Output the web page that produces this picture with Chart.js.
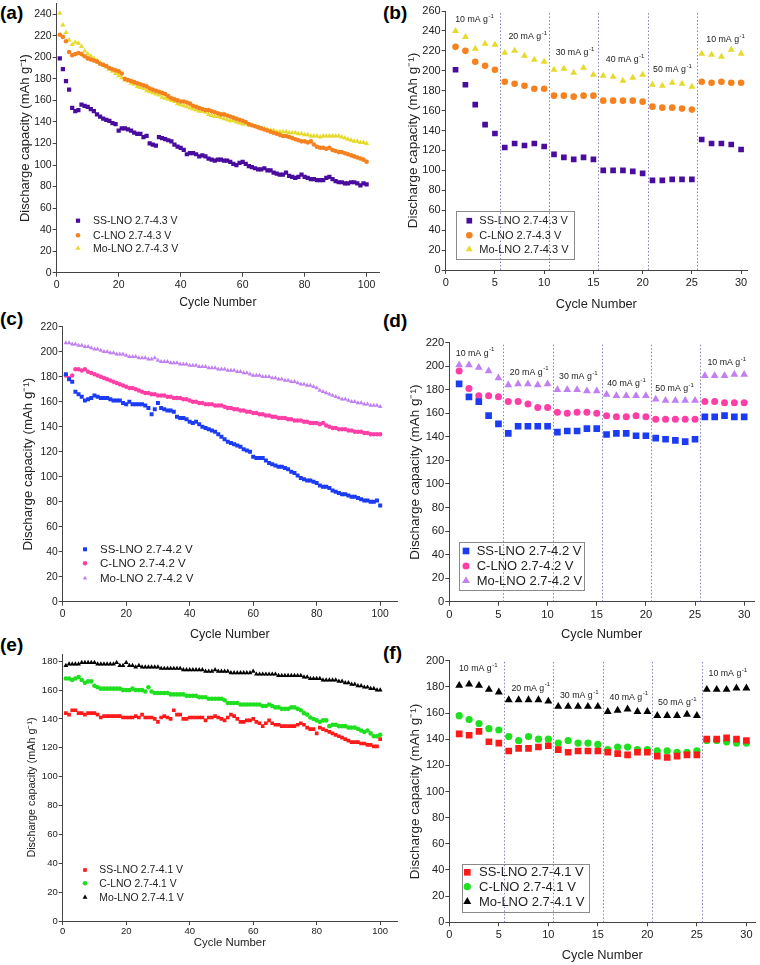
<!DOCTYPE html>
<html>
<head>
<meta charset="utf-8">
<script src="https://cdn.jsdelivr.net/npm/chart.js@4.4.1/dist/chart.umd.min.js"></script>
<style>
  body { margin: 0; width: 760px; height: 965px; background: #fff; overflow: hidden; position: relative; }
  canvas { position: absolute; }
  .lbl { position: absolute; font: bold 19px "Liberation Sans", Arial, sans-serif; line-height: 1; color: #000; }
</style>
</head>
<body>
<div class="lbl" style="left:0px;top:3px">(a)</div>
<div class="lbl" style="left:383px;top:3px">(b)</div>
<div class="lbl" style="left:0px;top:309px">(c)</div>
<div class="lbl" style="left:383px;top:311px">(d)</div>
<div class="lbl" style="left:0px;top:635px">(e)</div>
<div class="lbl" style="left:383px;top:643px">(f)</div>
<script>
// ---- data (discharge capacity, mAh/g, one value per cycle starting at cycle 1) ----

// (a) cycling 2.7-4.3 V
const ssA = [199,189,178,170,153,150,151,156,155,154, 152,150,147,145,143,142,141,139,138,132,
             134,134,133,132,130,129,129,126,127,120, 119,118,126,125,124,123,122,119,117,116,
             114,110,111,111,110,108,109,108,106,105, 104,105,105,104,104,103,101,100,102,103,
             101,99,98,97,96,96,97,95,95,93, 92,91,91,93,90,89,88,89,91,89,
             88,87,87,86,86,86,88,89,87,85, 84,84,83,83,84,84,83,81,83,82];
const cA  = [221,219,215,205,202,203,204,203,201,199, 198,197,196,194,193,192,190,189,188,187,
             185,180,179,178,177,176,175,174,173,171, 170,169,168,167,166,164,162,161,160,159,
             159,158,157,155,154,153,152,151,151,150, 149,148,147,147,146,145,144,143,142,141,
             140,138,137,136,135,134,133,132,131,130, 129,128,127,127,126,125,124,123,122,122,
             121,122,119,117,116,116,115,116,114,113, 112,112,111,110,109,108,107,106,105,103];
const moA = [241,230,223,216,212,214,213,210,206,203, 201,199,197,195,193,191,189,187,185,183,
             181,179,178,176,175,173,172,171,169,168, 167,166,165,163,162,161,160,159,157,156,
             155,154,153,152,151,150,150,149,147,146, 145,145,144,143,142,141,141,140,139,138,
             138,137,137,136,135,134,134,133,132,132, 131,131,131,131,130,130,130,129,129,128,
             128,127,127,127,126,127,127,127,127,127, 127,126,125,124,123,122,122,121,121,120];

// (b) rate 2.7-4.3 V
const ssB = [201,186,166,146,137,123,127,125,127,124, 116,113,111,113,111,100,100,100,99,97,
             90,90,91,91,91,131,127,127,126,121];
const cB  = [224,220,209,205,201,189,187,185,182,182, 175,175,174,175,175,170,170,170,170,169,
             164,163,163,162,161,189,188,189,188,188];
const moB = [240,234,222,227,226,218,220,215,211,209, 201,202,198,203,196,195,194,190,193,196,
             186,185,188,187,184,217,216,214,221,217];

// (c) cycling 2.7-4.2 V
const ssC = [182,178,176,168,166,164,161,162,163,165, 164,163,163,163,162,161,161,161,159,158,
             160,158,158,158,158,157,155,150,154,159, 155,154,153,153,152,148,147,147,146,144,
             143,144,142,140,139,138,137,136,134,132, 130,128,127,126,125,124,122,121,120,116,
             115,115,115,113,111,110,109,108,108,107, 106,104,103,101,99,98,97,97,96,95,
             93,92,92,91,89,88,87,86,86,85, 84,84,83,82,81,81,80,80,81,77];
const cC  = [181,179,181,186,186,185,186,184,183,182, 181,180,179,178,177,176,175,174,173,172,
             171,171,170,169,168,167,167,166,166,165, 165,165,164,164,163,163,163,162,162,161,
             160,160,159,159,158,158,158,157,157,157, 156,155,155,154,154,153,153,152,152,151,
             151,150,150,149,149,148,148,147,147,147, 146,146,145,145,145,144,144,143,143,143,
             142,143,141,140,139,139,138,138,138,137, 137,136,136,136,135,135,134,134,134,134];
const moC = [207,207,206,206,205,205,204,204,203,202, 202,201,200,200,199,199,198,198,198,197,
             196,196,196,195,195,195,194,194,195,193, 192,192,192,191,191,191,190,190,190,189,
             189,189,188,188,188,187,187,187,186,186, 186,185,185,185,184,184,183,183,182,181,
             181,181,180,180,180,179,179,178,178,177, 177,176,176,175,174,174,173,173,172,171,
             169,168,167,166,165,164,163,162,162,161, 160,160,159,159,158,158,157,157,157,156];

// (d) rate 2.7-4.2 V
const ssD = [185,174,170,158,151,143,149,149,149,149, 144,145,145,147,147,142,143,143,141,141,
             139,138,137,136,138,157,157,158,157,157];
const cD  = [196,181,175,175,174,170,170,168,165,165, 161,160,161,161,160,158,157,157,158,157,
             155,155,155,155,155,170,170,169,169,169];
const moD = [201,201,199,196,190,184,185,185,184,185, 180,180,180,179,179,176,175,175,175,175,
             172,171,171,171,171,192,192,192,193,193];

// (e) cycling 2.7-4.1 V
const ssE = [144,143,146,146,144,144,143,144,144,144, 143,141,142,142,142,142,142,142,141,141,
             141,141,142,141,143,141,141,141,140,138, 141,142,141,140,146,143,143,140,140,141,
             141,141,141,141,139,141,141,142,141,140, 139,141,143,142,140,138,138,139,139,140,
             138,137,135,137,139,137,136,136,135,135, 135,135,135,136,137,136,134,133,133,130,
             134,133,132,131,130,129,128,127,126,125, 124,124,124,123,123,122,122,121,121,126];
const cE  = [168,168,167,168,169,167,165,166,166,163, 162,161,161,161,161,161,161,161,160,160,
             160,161,160,160,160,159,162,159,158,158, 158,158,158,157,157,157,157,157,156,156,
             156,156,155,155,155,154,154,154,154,154, 153,151,151,151,151,150,150,150,150,150,
             150,150,149,149,150,149,148,148,147,147, 147,148,148,147,146,144,143,141,140,139,
             138,139,139,135,136,136,135,135,135,134, 134,134,133,132,131,132,130,128,128,129];
const moE = [177,178,178,178,178,179,179,179,179,179, 178,178,178,178,178,178,179,177,177,179,
             177,177,176,177,176,176,176,176,176,176, 175,175,175,175,175,175,175,174,174,174,
             174,174,174,174,173,173,173,174,173,173, 173,173,172,172,172,172,172,172,172,173,
             171,171,171,171,171,171,171,170,170,170, 170,170,170,170,170,169,169,168,168,168,
             168,167,167,167,167,167,166,166,165,165, 164,164,163,163,162,162,161,161,160,160];

// (f) rate 2.7-4.1 V
const ssF = [144,143,146,138,137,131,133,133,134,135, 132,130,131,131,131,130,129,128,130,130,
             127,126,127,128,128,140,140,141,140,139];
const cF  = [158,155,152,148,147,142,139,142,140,140, 137,139,137,137,136,132,134,134,132,132,
             131,131,130,130,131,139,139,138,137,137];
const moF = [181,182,181,178,176,170,170,170,170,169, 165,165,165,165,165,161,162,163,161,161,
             158,158,158,159,158,178,178,178,179,179];

const labels43 = ['SS-LNO 2.7-4.3 V', 'C-LNO 2.7-4.3 V', 'Mo-LNO 2.7-4.3 V'];
const labels42 = ['SS-LNO 2.7-4.2 V', 'C-LNO 2.7-4.2 V', 'Mo-LNO 2.7-4.2 V'];
const labels41 = ['SS-LNO 2.7-4.1 V', 'C-LNO 2.7-4.1 V', 'Mo-LNO 2.7-4.1 V'];
const rateText = ['10', '20', '30', '40', '50', '10'];
const rateSteps = [5.5, 10.5, 15.5, 20.5, 25.5];

// tick labels
const xTicksLong = [0, 20, 40, 60, 80, 100];
const xTicksRate = [0, 5, 10, 15, 20, 25, 30];
const yTicks240 = [0, 20, 40, 60, 80, 100, 120, 140, 160, 180, 200, 220, 240];
const yTicks260 = [0, 20, 40, 60, 80, 100, 120, 140, 160, 180, 200, 220, 240, 260];
const yTicks220 = [0, 20, 40, 60, 80, 100, 120, 140, 160, 180, 200, 220];
const yTicks180 = [0, 20, 40, 60, 80, 100, 120, 140, 160, 180];
const yTicks200 = [0, 20, 40, 60, 80, 100, 120, 140, 160, 180, 200];

const colors43 = ['#4a0c9e', '#f5821f', '#e6da2c'];
const colors42 = ['#1b3cf2', '#ff3fa6', '#c080f2'];
const colors41 = ['#ff1a1a', '#1fe01f', '#000000'];
const shapes = ['rect', 'circle', 'triangle'];

const FONT = '"Liberation Sans", Arial, sans-serif';
Chart.defaults.font.family = FONT;

// ---- layout of each panel (page pixels) ----
const panels = [
  { series: [ssA, cA, moA], labels: labels43, colors: colors43, radius: [3, 2.3, 3],
    cl: 0, ct: -5, L: 56.7, R: 379, T: 3.5, B: 272.7, padR: 10,
    xMax: 104, yMax: 250, xTicks: xTicksLong, yTicks: yTicks240, xTitleY: 303, yTitleX: 25, tick: 10.5, xt: 12.2, yt: 13,
    legend: { mx: 78, tx: 93, rows: [220.7, 235.3, 248.3], size: 10.5 } },
  { series: [ssB, cB, moB], labels: labels43, colors: colors43, radius: [4, 3.3, 4],
    cl: 398, ct: 0, L: 445.7, R: 746.8, T: 11, B: 270, padR: 10,
    xMax: 30.6, yMax: 260, xTicks: xTicksRate, yTicks: yTicks260, xTitleY: 304, yTitleX: 413, tick: 11, xt: 12.8, yt: 13.5,
    legend: { mx: 469.3, tx: 479.3, rows: [220.7, 235.3, 249.3], size: 11, box: [456, 210.7, 574.3, 258.3] },
    rates: [[2.9, 251], [8.3, 234], [13.1, 218], [18.2, 211], [23.0, 201], [28.4, 231]] },
  { series: [ssC, cC, moC], labels: labels42, colors: colors42, radius: [2.8, 2.2, 2.6],
    cl: 0, ct: 316, L: 62.7, R: 397, T: 326.7, B: 601.7, padR: 8,
    xMax: 105.3, yMax: 220, xTicks: xTicksLong, yTicks: yTicks220, xTitleY: 634, yTitleX: 28, tick: 10.3, xt: 12.6, yt: 13.3,
    legend: { mx: 85, tx: 100, rows: [549.3, 563.3, 578.3], size: 11.5 } },
  { series: [ssD, cD, moD], labels: labels42, colors: colors42, radius: [4.7, 3.5, 4.5],
    cl: 400, ct: 332, L: 449.3, R: 754, T: 342.7, B: 601.7, padR: 5,
    xMax: 31, yMax: 220, xTicks: xTicksRate, yTicks: yTicks220, xTitleY: 634, yTitleX: 415, tick: 11.2, xt: 12.8, yt: 13.5,
    legend: { mx: 466, tx: 476.7, rows: [551, 566, 580.7], size: 13, box: [459.3, 541.7, 584, 590] },
    rates: [[2.6, 211], [8.1, 195], [13.1, 191], [18.0, 185], [22.9, 181], [28.2, 203]] },
  { series: [ssE, cE, moE], labels: labels41, colors: colors41, radius: [2.6, 2.3, 2.8],
    cl: 0, ct: 644, L: 62.7, R: 397, T: 654, B: 921, padR: 8,
    xMax: 105.3, yMax: 185, xTicks: xTicksLong, yTicks: yTicks180, xTitleY: 943, yTitleX: 32, tick: 9.5, xt: 11.4, yt: 10.8,
    tickPad: 1, legend: { mx: 85, tx: 99.3, rows: [870, 883.3, 897.3], size: 10.4 } },
  { series: [ssF, cF, moF], labels: labels41, colors: colors41, radius: [4.7, 3.6, 4.6],
    cl: 400, ct: 650, L: 449.3, R: 756.8, T: 660.7, B: 922.3, padR: 3.2,
    xMax: 30.9, yMax: 200, xTicks: xTicksRate, yTicks: yTicks200, xTitleY: 955, yTitleX: 415, tick: 11, xt: 12.8, yt: 13.5,
    legend: { mx: 467.3, tx: 479, rows: [872.3, 886.7, 901.7], size: 13, box: [461.7, 864, 588.3, 911.7] },
    rates: [[2.9, 194], [8.2, 179], [13.1, 173], [18.1, 172], [23.0, 168], [28.1, 190]] }
];

// same shapes as Chart.js point styles, for the hand-drawn legend
function mark(ctx, style, x, y, r, color) {
  ctx.fillStyle = color;
  ctx.beginPath();
  if (style === 'rect') {
    const s = r * Math.SQRT1_2;
    ctx.rect(x - s, y - s, 2 * s, 2 * s);
  } else if (style === 'circle') {
    ctx.arc(x, y, r, 0, Math.PI * 2);
  } else {
    ctx.moveTo(x, y - r);
    ctx.lineTo(x + r * 0.866, y + r * 0.5);
    ctx.lineTo(x - r * 0.866, y + r * 0.5);
    ctx.closePath();
  }
  ctx.fill();
}

function decor(p) {
  return {
    id: 'decor',
    beforeDatasetsDraw(chart) {
      if (!p.rates) return;
      const ctx = chart.ctx, a = chart.chartArea, xs = chart.scales.x;
      ctx.save();
      ctx.strokeStyle = 'rgba(110,110,175,0.85)';
      ctx.lineWidth = 1;
      ctx.setLineDash([1.5, 2]);
      rateSteps.forEach(v => {
        const x = Math.round(xs.getPixelForValue(v)) + 0.5;
        ctx.beginPath();
        ctx.moveTo(x, a.bottom);
        ctx.lineTo(x, a.top);
        ctx.stroke();
      });
      ctx.restore();
    },
    afterDraw(chart) {
      const ctx = chart.ctx;
      ctx.save();
      // rate labels
      if (p.rates) {
        const xs = chart.scales.x, ys = chart.scales.y;
        p.rates.forEach((r, i) => {
          const x = xs.getPixelForValue(r[0]), y = ys.getPixelForValue(r[1]);
          const main = rateText[i] + ' mA g';
          ctx.font = '8.8px ' + FONT;
          const w1 = ctx.measureText(main).width;
          ctx.font = '6px ' + FONT;
          const w2 = ctx.measureText('-1').width;
          const x0 = x - (w1 + w2) / 2;
          ctx.fillStyle = '#222';
          ctx.textBaseline = 'middle';
          ctx.textAlign = 'left';
          ctx.font = '8.8px ' + FONT;
          ctx.fillText(main, x0, y);
          ctx.font = '6px ' + FONT;
          ctx.fillText('-1', x0 + w1 + 0.5, y - 3.5);
        });
      }
      // legend
      const lg = p.legend;
      if (lg.box) {
        const b = lg.box;
        ctx.strokeStyle = '#8a8a8a';
        ctx.lineWidth = 1;
        ctx.strokeRect(Math.round(b[0] - p.cl) + 0.5, Math.round(b[1] - p.ct) + 0.5,
                       Math.round(b[2] - b[0]), Math.round(b[3] - b[1]));
      }
      ctx.font = lg.size + 'px ' + FONT;
      ctx.textBaseline = 'middle';
      ctx.textAlign = 'left';
      lg.rows.forEach((yy, k) => {
        mark(ctx, shapes[k], lg.mx - p.cl, yy - p.ct, p.radius[k], p.colors[k]);
        ctx.fillStyle = '#222';
        ctx.fillText(p.labels[k], lg.tx - p.cl, yy - p.ct + 0.5);
      });
      ctx.restore();
    }
  };
}

function makePanel(p) {
  const cv = document.createElement('canvas');
  const xLH = p.xt * 1.2, yLH = p.yt * 1.2;
  const w = Math.round(p.R + p.padR - p.cl);
  const h = Math.round(p.xTitleY + xLH / 2 - p.ct);
  cv.width = w;
  cv.height = h;
  cv.style.left = p.cl + 'px';
  cv.style.top = p.ct + 'px';
  document.body.appendChild(cv);
  const yW = p.L - p.cl;
  const xH = h - (p.B - p.ct);
  const axisGrid = { display: true, drawOnChartArea: false, drawTicks: true, tickLength: 4, color: '#444', lineWidth: 1 };
  const axisBorder = { display: true, color: '#444', width: 1 };

  new Chart(cv, {
    type: 'scatter',
    data: {
      datasets: p.series.map((s, k) => ({
        label: p.labels[k],
        data: s.map((v, i) => ({ x: i + 1, y: v })),
        pointStyle: shapes[k],
        pointRadius: p.radius[k],
        pointHoverRadius: p.radius[k],
        backgroundColor: p.colors[k],
        borderColor: p.colors[k],
        borderWidth: 0,
        showLine: false
      }))
    },
    options: {
      responsive: false,
      animation: false,
      devicePixelRatio: 1,
      layout: { padding: { top: p.T - p.ct, right: p.padR, left: 0, bottom: 0 } },
      plugins: { legend: { display: false }, tooltip: { enabled: false } },
      scales: {
        x: {
          type: 'linear', min: 0, max: p.xMax,
          ticks: { font: { size: p.tick }, color: '#222', padding: p.tickPad ?? 2, maxRotation: 0, autoSkip: false },
          afterBuildTicks: s => { s.ticks = p.xTicks.map(v => ({ value: v })); },
          afterFit: s => { s.height = xH; },
          grid: axisGrid, border: axisBorder,
          title: { display: true, text: 'Cycle Number', font: { size: p.xt }, color: '#222', padding: 0 }
        },
        y: {
          type: 'linear', min: 0, max: p.yMax,
          ticks: { font: { size: p.tick }, color: '#222', padding: 1, autoSkip: false },
          afterBuildTicks: s => { s.ticks = p.yTicks.map(v => ({ value: v })); },
          afterFit: s => { s.width = yW; },
          grid: axisGrid, border: axisBorder,
          title: { display: true, text: 'Discharge capacity (mAh g\u207B\u00B9)', font: { size: p.yt }, color: '#222',
                   padding: { top: p.yTitleX - p.cl - yLH / 2, bottom: 0 } }
        }
      }
    },
    plugins: [decor(p)]
  });
}

panels.forEach(makePanel);
</script>
</body>
</html>
